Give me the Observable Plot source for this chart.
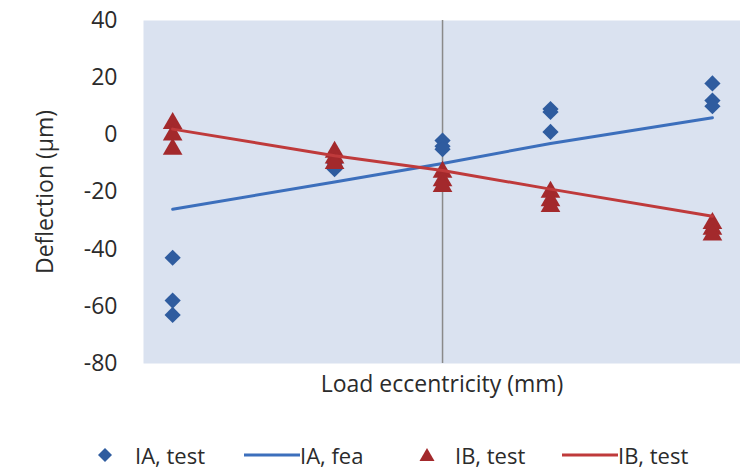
<!DOCTYPE html>
<html>
<head>
<meta charset="utf-8">
<script src="https://cdn.jsdelivr.net/npm/d3@7"></script>
<script src="https://cdn.jsdelivr.net/npm/@observablehq/plot@0.6"></script>
<style>
  body { margin: 0; background: #ffffff; overflow: hidden; }
  #chart svg { display: block; }
  #legend { position: relative; width: 740px; height: 68px; font-family: "Open Sans", sans-serif; font-size: 22px; line-height: 30px; color: #2b2b2b; }
  #legend .item { position: absolute; top: 37px; height: 30px; display: flex; align-items: center; white-space: nowrap; }
  #legend svg { display: block; }
</style>
</head>
<body>
<div id="chart"></div>
<div id="legend"></div>
<script>
// ---- data ----
const eccentricity = [-50, -20, 0, 20, 50];               // load eccentricity (mm), no tick labels shown
const iaTest = [[-43, -58, -63], [-10, -12, -11], [-2, -4, -5], [9, 8, 1], [18, 12, 10]];
const iaFea  = [-26, -16.5, -10, -3, 6];
const ibTest = [[4, 0, -5], [-6, -8, -10], [-13, -16, -18], [-20, -23, -25], [-31, -33, -35]];
const ibFea  = [2, -7.3, -12.5, -19, -28.5];
const yTicks = [40, 20, 0, -20, -40, -60, -80];
const seriesNames = ["IA, test", "IA, fea", "IB, test", "IB, test"];
const xLabel = "Load eccentricity (mm)";
const yLabel = "Deflection (\u00b5m)";

const colors = { iaDot: "#2F5C9F", iaLine: "#3C6FBC", ibDot: "#A3292C", ibLine: "#BF3A3B" };

const iaRows = eccentricity.flatMap((x, i) => iaTest[i].map(y => ({x, y})));
const ibRows = eccentricity.flatMap((x, i) => ibTest[i].map(y => ({x, y})));
const iaLineRows = eccentricity.map((x, i) => ({x, y: iaFea[i]}));
const ibLineRows = eccentricity.map((x, i) => ({x, y: ibFea[i]}));

const chart = Plot.plot({
  width: 740,
  height: 403,
  marginLeft: 143,
  marginRight: 0,
  marginTop: 20,
  marginBottom: 40,
  style: { fontFamily: "'Open Sans', sans-serif", fontSize: "23px", color: "#2b2b2b", background: "#ffffff" },
  x: { domain: [-55.4, 55.2], axis: null },
  y: { domain: [-80, 40], axis: null },
  marks: [
    Plot.frame({ fill: "#DAE2F0", stroke: "none" }),
    Plot.ruleX([0], { stroke: "#8a8a8a", strokeWidth: 1.5 }),
    Plot.axisY(yTicks, { tickSize: 0, tickPadding: 26, label: null, fill: "#2b2b2b", tickFormat: d => String(d) }),
    Plot.text([xLabel], { text: d => d, frameAnchor: "bottom", lineAnchor: "middle", dy: 21, fill: "#2b2b2b" }),
    Plot.text([yLabel], { text: d => d, frameAnchor: "left", textAnchor: "middle", rotate: -90, dx: -98, fill: "#2b2b2b" }),
    Plot.dot(iaRows, { x: "x", y: "y", symbol: "diamond2", r: 7.3, fill: colors.iaDot, stroke: "none" }),
    Plot.line(iaLineRows, { x: "x", y: "y", stroke: colors.iaLine, strokeWidth: 3 }),
    Plot.dot(ibRows, { x: "x", y: "y", symbol: "triangle", r: 7.3, fill: colors.ibDot, stroke: "none" }),
    Plot.line(ibLineRows, { x: "x", y: "y", stroke: colors.ibLine, strokeWidth: 3 })
  ]
});
document.getElementById("chart").appendChild(chart);

// ---- legend (HTML, below the SVG) ----
const legend = document.getElementById("legend");
const legendItems = [
  { name: seriesNames[0], kind: "diamond", color: colors.iaDot, left: 97 },
  { name: seriesNames[1], kind: "line", color: colors.iaLine, left: 244 },
  { name: seriesNames[2], kind: "triangle", color: colors.ibDot, left: 419 },
  { name: seriesNames[3], kind: "line", color: colors.ibLine, left: 562 }
];
for (const it of legendItems) {
  const div = document.createElement("div");
  div.className = "item";
  div.style.left = it.left + "px";
  let svg;
  if (it.kind === "line") {
    svg = `<svg width="56" height="24"><line x1="0" x2="56" y1="12" y2="12" stroke="${it.color}" stroke-width="3"/></svg>`;
  } else if (it.kind === "diamond") {
    svg = `<svg width="16" height="24" style="margin-right:22px"><path d="M8 5 L15 12 L8 19 L1 12 Z" fill="${it.color}"/></svg>`;
  } else {
    svg = `<svg width="16" height="24" style="margin-right:20px"><path d="M8 5 L15.5 18 L0.5 18 Z" fill="${it.color}"/></svg>`;
  }
  div.innerHTML = svg + `<span>${it.name}</span>`;
  legend.appendChild(div);
}
</script>
</body>
</html>
